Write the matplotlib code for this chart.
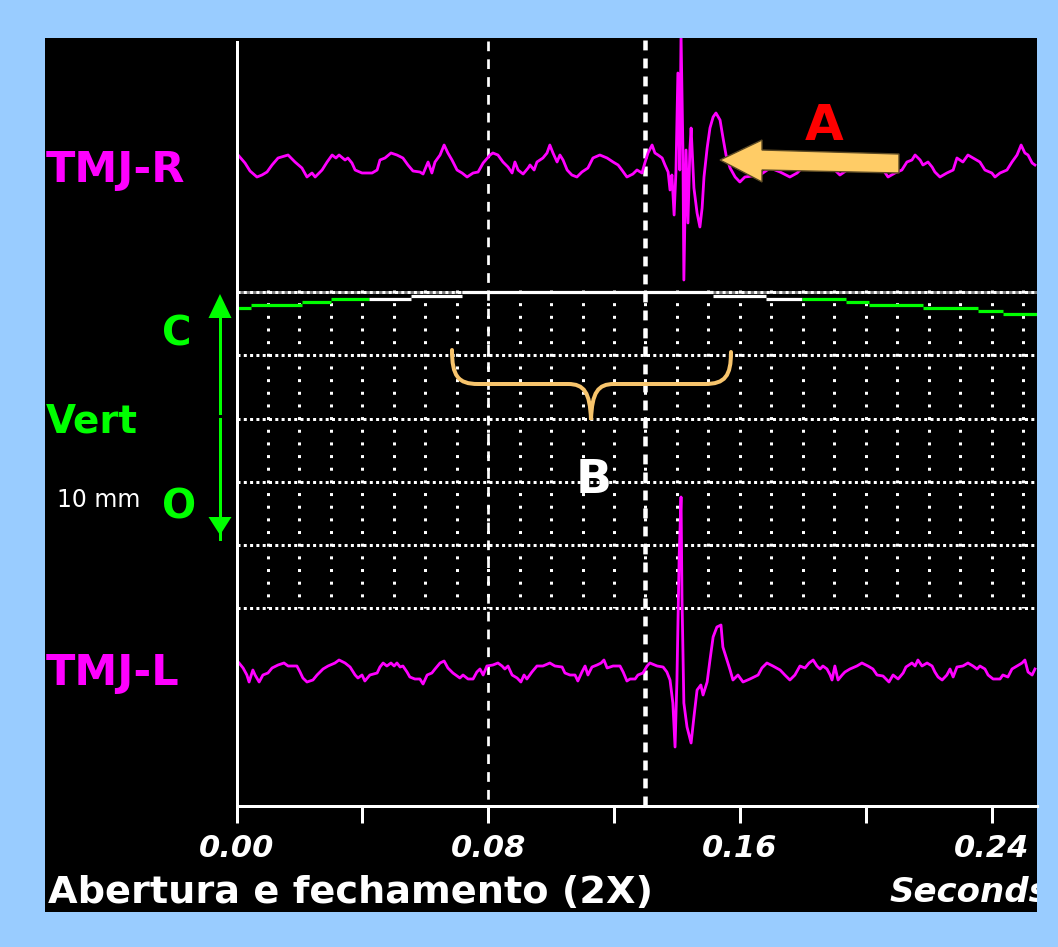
import matplotlib
matplotlib.use("Agg")
import matplotlib.pyplot as plt
from matplotlib.patches import Rectangle, Polygon, PathPatch
from matplotlib.path import Path

# ---------------- data ----------------
# time axis ticks (s)
tick_s = [0.00, 0.04, 0.08, 0.12, 0.16, 0.20, 0.24]
tick_labels = ["0.00", "", "0.08", "", "0.16", "", "0.24"]
marker_s = [0.08, 0.13]          # dashed cursor lines

# TMJ-R channel: time (ms) and amplitude (screen units, up positive)
r_t_ms = [0.5, 2.7, 4.3, 6.5, 8.1, 9.7, 11.3, 13.2, 16.4, 18.6,
          20.8, 22.4, 24.0, 25.0, 27.2, 28.8, 30.4, 31.6, 32.6, 34.5,
          35.4, 36.7, 37.7, 39.9, 43.1, 44.7, 45.6, 47.2, 49.1, 51.0,
          52.9, 54.5, 56.1, 58.3, 59.3, 60.9, 62.1, 63.1, 64.7, 66.0,
          67.2, 68.5, 70.1, 71.7, 73.3, 75.2, 76.8, 78.4, 80.6, 81.5,
          83.1, 84.7, 86.3, 87.6, 88.5, 89.5, 91.1, 92.7, 93.3, 94.6,
          95.5, 97.4, 98.7, 99.6, 100.6, 101.9, 102.8, 103.8, 105.1, 106.6,
          108.2, 109.8, 111.7, 113.3, 115.5, 117.8, 119.7, 121.3, 122.5, 124.1,
          126.0, 127.3, 128.9, 129.8, 130.8, 132.1, 133.0, 134.0, 135.3, 136.2,
          137.2, 137.8, 138.4, 139.1, 139.7, 140.3, 140.9, 141.3, 141.9, 142.2,
          142.9, 143.5, 144.1, 144.5, 145.4, 146.4, 147.3, 148.0, 148.6, 149.6,
          150.5, 151.5, 152.4, 153.7, 154.6, 155.6, 156.9, 158.5, 160.0, 161.6,
          166.4, 169.6, 172.8, 175.9, 178.2, 180.7, 183.9, 187.1, 190.2, 191.8,
          195.0, 198.2, 201.4, 204.5, 207.1, 209.3, 211.5, 213.1, 214.7, 215.7,
          217.3, 218.2, 219.8, 221.1, 222.0, 223.6, 225.8, 227.8, 229.0, 230.9,
          232.5, 234.1, 236.3, 237.9, 240.1, 241.1, 242.7, 244.9, 246.5, 248.1,
          249.4, 250.6, 251.6, 252.9, 253.8]
r_amp = [5, -3, -11, -17, -15, -12, -5, 2, 5, -2,
         -8, -17, -13, -17, -10, -2, 5, 2, 5, 0,
         2, -3, -10, -13, -13, -10, 0, 2, 7, 5,
         2, -5, -11, -12, -14, -2, -13, -2, 5, 15,
         7, 0, -10, -13, -17, -13, -12, -3, 5, 7,
         5, -2, -7, -13, -2, -10, -14, -8, -5, -10,
         -2, 2, 7, 15, 7, -2, 5, 0, -10, -15,
         -17, -12, -8, 2, 5, 2, -2, -5, -10, -17,
         -14, -10, -13, -3, 7, 15, 7, 5, 2, -5,
         -12, -30, -15, -55, -10, 87, -10, 125, 10, -120,
         10, -63, 10, 32, -28, -53, -67, -48, -17, 12,
         32, 43, 47, 40, 23, 5, -8, -17, -22, -17,
         -15, -8, -12, -17, -13, -5, 2, -2, -10, -15,
         -8, 0, 2, -5, -17, -13, -10, -2, 0, 5,
         0, -5, -2, -7, -12, -17, -13, -10, 2, -2,
         5, 2, -2, -10, -13, -17, -13, -10, -2, 5,
         15, 7, 5, -3, -5]

# TMJ-L channel
l_t_ms = [0.8, 2.1, 3.3, 4.0, 5.2, 5.9, 7.2, 8.4, 10.0, 11.3,
          13.2, 15.1, 16.4, 19.2, 20.2, 21.1, 22.4, 24.3, 25.6, 27.5,
          29.1, 31.3, 32.6, 34.5, 36.1, 37.7, 38.6, 39.9, 40.8, 42.4,
          44.7, 45.6, 46.6, 47.8, 49.1, 50.1, 51.0, 52.0, 52.9, 54.2,
          55.1, 56.7, 58.3, 59.3, 60.6, 62.1, 63.1, 64.7, 66.0, 67.2,
          68.8, 71.0, 72.0, 73.6, 75.2, 76.4, 77.4, 78.4, 79.6, 81.5,
          83.1, 84.4, 85.3, 86.3, 87.6, 89.2, 90.4, 91.4, 92.3, 93.9,
          95.5, 97.4, 99.6, 101.2, 103.5, 104.4, 106.0, 107.6, 108.5, 109.8,
          110.8, 111.7, 113.0, 114.6, 115.9, 116.8, 117.8, 119.7, 121.9, 122.9,
          124.1, 125.1, 126.7, 127.6, 129.2, 130.5, 131.4, 133.7, 135.6, 136.8,
          137.8, 138.7, 139.4, 140.0, 140.7, 141.3, 141.6, 142.2, 143.2, 144.5,
          145.4, 146.4, 147.6, 148.3, 149.6, 150.5, 151.5, 152.7, 154.0, 154.6,
          155.9, 156.9, 157.8, 159.4, 161.0, 163.2, 165.8, 167.0, 168.6, 170.5,
          172.8, 174.3, 175.9, 177.5, 179.1, 180.7, 182.0, 183.3, 184.5, 185.5,
          186.4, 187.7, 188.7, 189.3, 190.2, 191.2, 192.5, 193.4, 195.0, 197.2,
          198.8, 200.7, 202.3, 203.6, 205.5, 207.4, 208.7, 210.3, 211.9, 212.8,
          214.7, 215.7, 216.6, 217.9, 219.5, 221.1, 222.0, 223.0, 224.3, 225.8,
          226.8, 227.8, 229.0, 230.9, 232.5, 234.1, 235.4, 236.3, 237.9, 238.9,
          240.5, 242.7, 243.6, 245.2, 246.5, 248.1, 249.7, 250.6, 251.6, 252.9,
          253.8]
l_amp = [5, 0, -7, -14, -2, -7, -14, -7, -5, 0,
         3, 5, 2, 2, -4, -10, -14, -12, -7, -1,
         2, 5, 8, 5, 1, -7, -10, -7, -13, -7,
         -5, 1, 5, 2, 5, 2, 5, 1, 2, -4,
         -9, -11, -11, -16, -7, -5, -1, 5, 7, 0,
         -5, -10, -7, -11, -11, -4, -1, -7, 2, 3,
         5, 2, -1, 2, -7, -10, -14, -7, -11, -4,
         2, 2, 5, 2, 1, -5, -7, -7, -13, -4,
         2, -7, 1, 3, 5, 8, 0, 2, 2, -4,
         -13, -11, -11, -7, -5, 2, 5, 2, 1, -4,
         -12, -35, -79, -12, 111, 171, 71, -35, -59, -75,
         -49, -22, -17, -27, -14, 8, 31, 41, 43, 21,
         8, -2, -12, -7, -14, -11, -7, 0, 5, 2,
         -2, -7, -12, -7, 2, 0, 5, 8, 2, -1,
         2, -1, -7, -12, 2, -12, -7, -4, -1, 2,
         5, 2, -1, -7, -8, -14, -7, -11, -5, 1,
         5, 2, 8, 2, 5, 2, -4, -9, -12, -7,
         -1, -9, 1, 2, 5, 2, -1, 2, -1, -7,
         -11, -11, -7, -9, -1, 2, 5, 8, -4, -7,
         -1]

# Vertical jaw position (step trace): edges (ms), depth below "C" (screen units)
pos_edges_ms = [0.0, 4.6, 20.8, 30.0, 42.1, 55.5, 71.7, 151.5, 168.3,
                179.8, 193.8, 201.1, 218.2, 235.7, 243.6, 254.5]
pos_depth = [16, 13, 10, 7, 7, 4, 0, 4, 7, 7, 10, 13, 16, 19, 22]
pos_color = ["g", "g", "g", "g", "w", "w", "w", "w", "w",
             "g", "g", "g", "g", "g", "g"]

# ---------------- layout / style ----------------
W, H = 1058, 947
PX = 1.0 / 100 * 72            # points per pixel at dpi 100
MAG = "#ff00ff"
GRN = "#00ff00"
BLUE = "#99ccff"
ORANGE = "#ffcc66"

X_LEFT, X_RIGHT = 236.5, 1037.0   # pixel extent of the time axis
Y_TOP, Y_AXIS = 38.0, 806.0
PX_PER_S = 3146.0
XMAX = (X_RIGHT - X_LEFT) / PX_PER_S
YSPAN = Y_AXIS - Y_TOP
R_BASE = 122.0
L_BASE = 630.0
GRID_TOP = 254.0
GRID_STEP = 63.3
N_ROWS = 5

fig = plt.figure(figsize=(W / 100, H / 100), dpi=100)
fig.patch.set_facecolor(BLUE)

bg = fig.add_axes([0, 0, 1, 1], zorder=0)
bg.set_xlim(0, W); bg.set_ylim(H, 0); bg.axis("off")
bg.add_patch(Rectangle((45, 38), 992, 874, facecolor="black", edgecolor="none"))

ax = fig.add_axes([X_LEFT / W, (H - Y_AXIS) / H, (X_RIGHT - X_LEFT) / W, YSPAN / H],
                  zorder=1)
ax.patch.set_alpha(0)
ax.set_xlim(0, XMAX)
ax.set_ylim(YSPAN, 0)

# grid rows (dotted)
rows_y = [GRID_TOP + GRID_STEP * k for k in range(N_ROWS + 1)]
ax.hlines(rows_y[0], 0, XMAX, colors="#7f7f7f", lw=3 * PX, zorder=2)
ax.hlines(rows_y, 0, XMAX, colors="white", lw=3 * PX,
          linestyles=[(0, (1.0, 1.1))], zorder=2)
# grid columns (dotted, every 0.01 s)
cols_t = [k * 0.01 for k in range(1, 26)]
ax.vlines(cols_t, GRID_TOP - 1.5, rows_y[-1], colors="white", lw=3 * PX,
          linestyles=[(0, (1.0, 3.22))], zorder=2)

# cursor lines
ax.vlines(marker_s[0], 3, YSPAN, colors="white", lw=2.7 * PX,
          linestyles=[(0, (3.6, 3.0))], zorder=3)
ax.vlines(marker_s[1], 2, YSPAN, colors="white", lw=4.5 * PX,
          linestyles=[(0, (2.2, 1.8))], zorder=3)

# position trace
for i, d in enumerate(pos_depth):
    c = GRN if pos_color[i] == "g" else "white"
    ax.hlines(GRID_TOP + d, pos_edges_ms[i] / 1000, pos_edges_ms[i + 1] / 1000,
              colors=c, lw=3.2 * PX, zorder=4)

# EMG traces
ax.plot([t / 1000 for t in r_t_ms], [R_BASE - a for a in r_amp],
        color=MAG, lw=2.8 * PX, zorder=5)
ax.plot([t / 1000 for t in l_t_ms], [L_BASE - a for a in l_amp],
        color=MAG, lw=2.8 * PX, zorder=5)

# axes styling
for s in ["top", "right"]:
    ax.spines[s].set_visible(False)
for s in ["left", "bottom"]:
    ax.spines[s].set_color("white")
    ax.spines[s].set_linewidth(3 * PX)
    ax.spines[s].set_zorder(6)
ax.spines["left"].set_bounds(4, YSPAN)
ax.set_yticks([])
ax.set_xticks(tick_s)
ax.set_xticklabels(tick_labels)
ax.tick_params(axis="x", colors="white", length=17 * PX, width=3 * PX,
               direction="out", pad=8)
for lab in ax.get_xticklabels():
    lab.set_fontsize(22)
    lab.set_fontweight("bold")
    lab.set_fontstyle("italic")
    lab.set_color("white")

# ---------------- annotation overlay ----------------
ov = fig.add_axes([0, 0, 1, 1], zorder=3)
ov.patch.set_alpha(0)
ov.set_xlim(0, W); ov.set_ylim(H, 0); ov.axis("off")
panel = Rectangle((45, 38), 992, 874, transform=ov.transData)

def label(x, y, s, color, size, weight="bold", style="normal"):
    t = ov.text(x, y, s, color=color, fontsize=size, fontweight=weight,
                fontstyle=style, ha="left", va="baseline", clip_on=True)
    t.set_clip_path(panel)
    return t

label(46, 182, "TMJ-R", MAG, 31)
label(46, 685, "TMJ-L", MAG, 31)
label(162, 345, "C", GRN, 29)
label(46, 432, "Vert", GRN, 28)
label(162, 518, "O", GRN, 29)
label(57, 507, "10 mm", "white", 17, weight="normal")
label(805, 140, "A", "#ff0000", 36)
label(576, 493, "B", "white", 34)
label(48, 903, "Abertura e fechamento (2X)", "white", 27.5)
label(889, 902, "Seconds", "white", 24.5, style="italic")

# green double arrow
ov.plot([220, 220], [317, 413], color=GRN, lw=3 * PX)
ov.plot([220, 220], [419, 539], color=GRN, lw=3 * PX)
ov.add_patch(Polygon([(220, 294), (208.5, 318), (231.5, 318)], closed=True,
                     facecolor=GRN, edgecolor="none"))
ov.add_patch(Polygon([(208.5, 517), (231.5, 517), (220, 535)], closed=True,
                     facecolor=GRN, edgecolor="none"))

# arrow A
ov.add_patch(Polygon([(720, 160), (762, 140), (762, 150), (899, 154),
                      (899, 173), (762, 170), (762, 182)], closed=True,
                     facecolor=ORANGE, edgecolor="#5c4a24", lw=1.0))

# brace B
verts = [(452, 350), (452, 376), (458, 384), (478, 384),
         (568, 384),
         (584, 384), (590, 392), (591, 420),
         (592, 392), (598, 384), (614, 384),
         (705, 384),
         (725, 384), (731, 376), (731, 352)]
codes = [Path.MOVETO, Path.CURVE4, Path.CURVE4, Path.CURVE4,
         Path.LINETO,
         Path.CURVE4, Path.CURVE4, Path.CURVE4,
         Path.CURVE4, Path.CURVE4, Path.CURVE4,
         Path.LINETO,
         Path.CURVE4, Path.CURVE4, Path.CURVE4]
ov.add_patch(PathPatch(Path(verts, codes), facecolor="none",
                       edgecolor="#f7c46c", lw=4 * PX, capstyle="round"))

fig.savefig("out.png", dpi=100, facecolor=BLUE)
